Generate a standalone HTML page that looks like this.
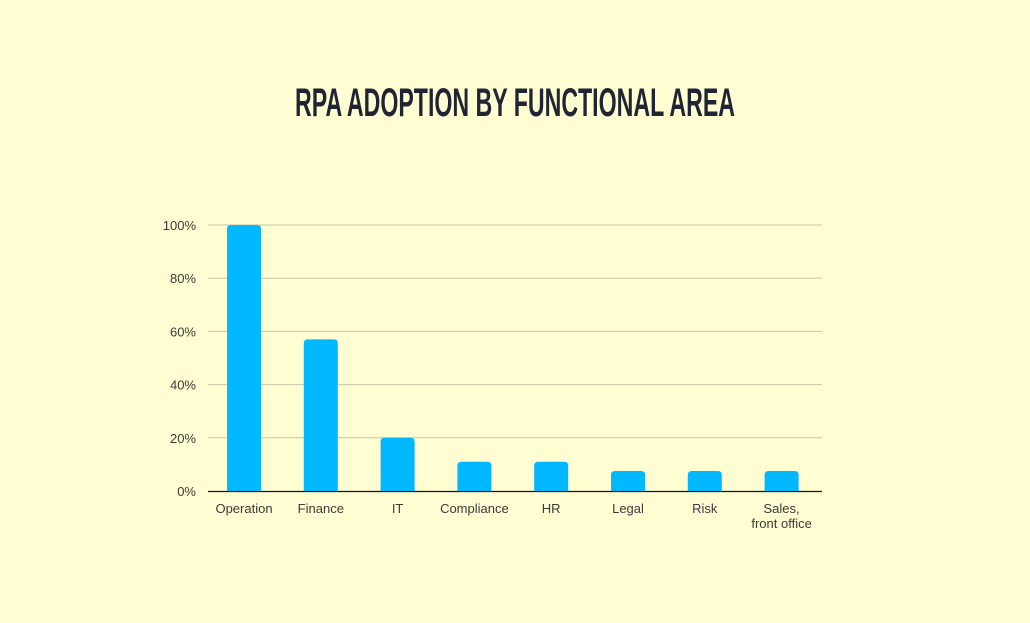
<!DOCTYPE html>
<html><head><meta charset="utf-8"><style>
html,body{margin:0;padding:0;background:#fffdd1;}
svg{display:block;}
</style></head><body>
<svg width="1030" height="623" viewBox="0 0 1030 623">
<rect x="0" y="0" width="1030" height="623" fill="#fffdd1"/>
<text x="515" y="116" text-anchor="middle" textLength="440" lengthAdjust="spacingAndGlyphs" font-family="Liberation Sans Narrow, Liberation Sans, sans-serif" font-weight="bold" font-size="40" fill="#1f2533">RPA ADOPTION BY FUNCTIONAL AREA</text>
<g id="grid"></g><g id="bars"></g><g id="labels"></g>
</svg>
<script>
const categories=["Operation","Finance","IT","Compliance","HR","Legal","Risk","Sales,|front office"];
const values=[100,57,20,11,11,7.5,7.5,7.5];
const ticks=[0,20,40,60,80,100];
const tickLabels=["0%","20%","40%","60%","80%","100%"];
const NS="http://www.w3.org/2000/svg";
const x0=208,x1=822,y0=491,yTop=225,step=76.8,bw=34;
function y(v){return y0-(v/100)*(y0-yTop);}
function xc(i){return 244+i*step;}
function mk(t,a,p){const e=document.createElementNS(NS,t);for(const k in a)e.setAttribute(k,a[k]);p.appendChild(e);return e;}
const g=document.getElementById('grid'),b=document.getElementById('bars'),l=document.getElementById('labels');
ticks.forEach((t,i)=>{
 if(t>0){const ln=mk('line',{x1:x0,x2:x1,y1:y(t),y2:y(t),stroke:'#c9c6a6','stroke-width':1},g);
 
 }
 const tx=mk('text',{x:196,y:y(t)+5,'text-anchor':'end','font-family':'Liberation Sans, sans-serif','font-size':13,fill:'#3a3a3a'},l);
 tx.textContent=tickLabels[i];
 
 
});
values.forEach((v,i)=>{
 const top=y(v),h=y0-top,r=4,x=xc(i)-bw/2;
 const p=mk('path',{d:`M${x},${y0}V${top+r}Q${x},${top} ${x+r},${top}H${x+bw-r}Q${x+bw},${top} ${x+bw},${top+r}V${y0}Z`,fill:'#00b8ff'},b);
 
 
 const parts=categories[i].split('|');
 parts.forEach((s,j)=>{
  const tx=mk('text',{x:xc(i),y:513+j*15,'text-anchor':'middle','font-family':'Liberation Sans, sans-serif','font-size':13,fill:'#3a3a3a'},l);
  tx.textContent=s;
  
  
 });
});
const ax=mk('line',{x1:x0,x2:x1,y1:y0+0.5,y2:y0+0.5,stroke:'#111','stroke-width':1.3},g);


</script>
</body></html>
